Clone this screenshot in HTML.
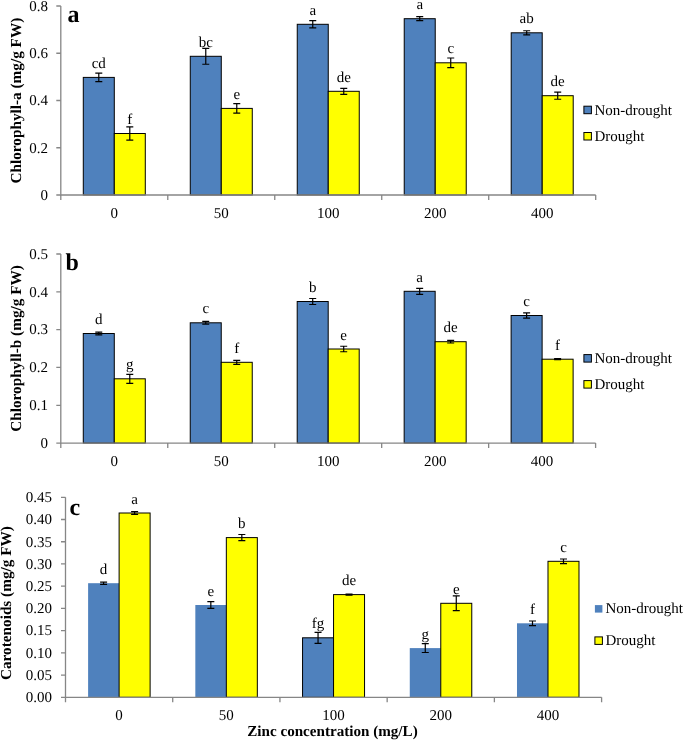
<!DOCTYPE html>
<html><head><meta charset="utf-8"><style>
html,body{margin:0;padding:0;background:#fff;}
svg{display:block;will-change:transform;}
text{font-family:"Liberation Serif", serif;font-size:15px;fill:#000;text-rendering:geometricPrecision;}
</style></head><body>
<svg width="685" height="740" viewBox="0 0 685 740">
<rect width="685" height="740" fill="#fff"/>
<rect x="83.29" y="77.4" width="31" height="117.6" fill="#4f81bd" stroke="#000" stroke-width="1"/>
<rect x="114.29" y="133.5" width="31" height="61.5" fill="#ffff00" stroke="#000" stroke-width="1"/>
<rect x="190.27" y="56.3" width="31" height="138.7" fill="#4f81bd" stroke="#000" stroke-width="1"/>
<rect x="221.27" y="108.4" width="31" height="86.6" fill="#ffff00" stroke="#000" stroke-width="1"/>
<rect x="297.25" y="24.3" width="31" height="170.7" fill="#4f81bd" stroke="#000" stroke-width="1"/>
<rect x="328.25" y="91.3" width="31" height="103.7" fill="#ffff00" stroke="#000" stroke-width="1"/>
<rect x="404.23" y="18.7" width="31" height="176.3" fill="#4f81bd" stroke="#000" stroke-width="1"/>
<rect x="435.23" y="62.8" width="31" height="132.2" fill="#ffff00" stroke="#000" stroke-width="1"/>
<rect x="511.21" y="32.8" width="31" height="162.2" fill="#4f81bd" stroke="#000" stroke-width="1"/>
<rect x="542.21" y="95.7" width="31" height="99.3" fill="#ffff00" stroke="#000" stroke-width="1"/>
<path d="M60.8 6V195H595.7" fill="none" stroke="#868686" stroke-width="1.3"/>
<path d="M56.3 195H60.8M56.3 147.75H60.8M56.3 100.5H60.8M56.3 53.25H60.8M56.3 6H60.8M60.8 195V200M167.78 195V200M274.76 195V200M381.74 195V200M488.72 195V200M595.7 195V200" fill="none" stroke="#868686" stroke-width="1.3"/>
<path d="M98.79 73.1V81.7M95.29 73.1H102.29M95.29 81.7H102.29M129.79 126.8V140.2M126.29 126.8H133.29M126.29 140.2H133.29M205.77 48.35V64.25M202.27 48.35H209.27M202.27 64.25H209.27M236.77 103.7V113.1M233.27 103.7H240.27M233.27 113.1H240.27M312.75 20.65V27.95M309.25 20.65H316.25M309.25 27.95H316.25M343.75 88.3V94.3M340.25 88.3H347.25M340.25 94.3H347.25M419.73 16.7V20.7M416.23 16.7H423.23M416.23 20.7H423.23M450.73 58V67.6M447.23 58H454.23M447.23 67.6H454.23M526.71 30.75V34.85M523.21 30.75H530.21M523.21 34.85H530.21M557.71 92.15V99.25M554.21 92.15H561.21M554.21 99.25H561.21" fill="none" stroke="#000" stroke-width="1.2"/>
<text x="48" y="199.8" text-anchor="end">0</text>
<text x="48" y="152.55" text-anchor="end">0.2</text>
<text x="48" y="105.3" text-anchor="end">0.4</text>
<text x="48" y="58.05" text-anchor="end">0.6</text>
<text x="48" y="10.8" text-anchor="end">0.8</text>
<text x="114.29" y="217.8" text-anchor="middle">0</text>
<text x="221.27" y="217.8" text-anchor="middle">50</text>
<text x="328.25" y="217.8" text-anchor="middle">100</text>
<text x="435.23" y="217.8" text-anchor="middle">200</text>
<text x="542.21" y="217.8" text-anchor="middle">400</text>
<text x="98.79" y="68" text-anchor="middle">cd</text>
<text x="129.79" y="124.1" text-anchor="middle">f</text>
<text x="205.77" y="46.9" text-anchor="middle">bc</text>
<text x="236.77" y="99" text-anchor="middle">e</text>
<text x="312.75" y="14.9" text-anchor="middle">a</text>
<text x="343.75" y="81.9" text-anchor="middle">de</text>
<text x="419.73" y="9.3" text-anchor="middle">a</text>
<text x="450.73" y="53.4" text-anchor="middle">c</text>
<text x="526.71" y="23.4" text-anchor="middle">ab</text>
<text x="557.71" y="86.3" text-anchor="middle">de</text>
<text x="67.5" y="21.5" style="font-weight:bold;font-size:24px">a</text>
<text transform="translate(20.7 100.65) rotate(-90)" text-anchor="middle" style="font-weight:bold;font-size:15.25px">Chlorophyll-a (mg/g FW)</text>
<rect x="583.9" y="106.2" width="7.5" height="7.5" fill="#4f81bd" stroke="#000" stroke-width="1"/>
<rect x="583.9" y="132.5" width="7.5" height="7.5" fill="#ffff00" stroke="#000" stroke-width="1"/>
<text x="594.4" y="114.5">Non-drought</text>
<text x="594.4" y="140.8">Drought</text>
<rect x="83.28" y="333.5" width="31" height="109.6" fill="#4f81bd" stroke="#000" stroke-width="1"/>
<rect x="114.28" y="378.8" width="31" height="64.3" fill="#ffff00" stroke="#000" stroke-width="1"/>
<rect x="190.24" y="322.8" width="31" height="120.3" fill="#4f81bd" stroke="#000" stroke-width="1"/>
<rect x="221.24" y="362.3" width="31" height="80.8" fill="#ffff00" stroke="#000" stroke-width="1"/>
<rect x="297.2" y="301.5" width="31" height="141.6" fill="#4f81bd" stroke="#000" stroke-width="1"/>
<rect x="328.2" y="349" width="31" height="94.1" fill="#ffff00" stroke="#000" stroke-width="1"/>
<rect x="404.16" y="291.3" width="31" height="151.8" fill="#4f81bd" stroke="#000" stroke-width="1"/>
<rect x="435.16" y="341.7" width="31" height="101.4" fill="#ffff00" stroke="#000" stroke-width="1"/>
<rect x="511.12" y="315.5" width="31" height="127.6" fill="#4f81bd" stroke="#000" stroke-width="1"/>
<rect x="542.12" y="359.2" width="31" height="83.9" fill="#ffff00" stroke="#000" stroke-width="1"/>
<path d="M60.8 254V443.1H595.6" fill="none" stroke="#868686" stroke-width="1.3"/>
<path d="M56.3 443.1H60.8M56.3 405.28H60.8M56.3 367.46H60.8M56.3 329.64H60.8M56.3 291.82H60.8M56.3 254H60.8M60.8 443.1V448.1M167.76 443.1V448.1M274.72 443.1V448.1M381.68 443.1V448.1M488.64 443.1V448.1M595.6 443.1V448.1" fill="none" stroke="#868686" stroke-width="1.3"/>
<path d="M98.78 332.2V334.8M95.28 332.2H102.28M95.28 334.8H102.28M129.78 374.3V383.3M126.28 374.3H133.28M126.28 383.3H133.28M205.74 321.4V324.2M202.24 321.4H209.24M202.24 324.2H209.24M236.74 360.3V364.3M233.24 360.3H240.24M233.24 364.3H240.24M312.7 298.5V304.5M309.2 298.5H316.2M309.2 304.5H316.2M343.7 346.25V351.75M340.2 346.25H347.2M340.2 351.75H347.2M419.66 288.3V294.3M416.16 288.3H423.16M416.16 294.3H423.16M450.66 340.4V343M447.16 340.4H454.16M447.16 343H454.16M526.62 312.9V318.1M523.12 312.9H530.12M523.12 318.1H530.12M557.62 358.7V359.7M554.12 358.7H561.12M554.12 359.7H561.12" fill="none" stroke="#000" stroke-width="1.2"/>
<text x="48" y="447.9" text-anchor="end">0</text>
<text x="48" y="410.08" text-anchor="end">0.1</text>
<text x="48" y="372.26" text-anchor="end">0.2</text>
<text x="48" y="334.44" text-anchor="end">0.3</text>
<text x="48" y="296.62" text-anchor="end">0.4</text>
<text x="48" y="258.8" text-anchor="end">0.5</text>
<text x="114.28" y="465.9" text-anchor="middle">0</text>
<text x="221.24" y="465.9" text-anchor="middle">50</text>
<text x="328.2" y="465.9" text-anchor="middle">100</text>
<text x="435.16" y="465.9" text-anchor="middle">200</text>
<text x="542.12" y="465.9" text-anchor="middle">400</text>
<text x="98.78" y="324.1" text-anchor="middle">d</text>
<text x="129.78" y="369.4" text-anchor="middle">g</text>
<text x="205.74" y="313.4" text-anchor="middle">c</text>
<text x="236.74" y="352.9" text-anchor="middle">f</text>
<text x="312.7" y="292.1" text-anchor="middle">b</text>
<text x="343.7" y="339.6" text-anchor="middle">e</text>
<text x="419.66" y="281.9" text-anchor="middle">a</text>
<text x="450.66" y="332.3" text-anchor="middle">de</text>
<text x="526.62" y="306.1" text-anchor="middle">c</text>
<text x="557.62" y="349.8" text-anchor="middle">f</text>
<text x="65.6" y="270" style="font-weight:bold;font-size:24px">b</text>
<text transform="translate(20.7 348.5) rotate(-90)" text-anchor="middle" style="font-weight:bold;font-size:15.25px">Chlorophyll-b (mg/g FW)</text>
<rect x="583.9" y="354.6" width="7.5" height="7.5" fill="#4f81bd" stroke="#000" stroke-width="1"/>
<rect x="583.9" y="380.6" width="7.5" height="7.5" fill="#ffff00" stroke="#000" stroke-width="1"/>
<text x="594.4" y="362.9">Non-drought</text>
<text x="594.4" y="388.9">Drought</text>
<rect x="88.11" y="583.2" width="31" height="114.1" fill="#4f81bd"/>
<rect x="119.11" y="513" width="31" height="184.3" fill="#ffff00" stroke="#000" stroke-width="1"/>
<rect x="195.33" y="605" width="31" height="92.3" fill="#4f81bd"/>
<rect x="226.33" y="537.6" width="31" height="159.7" fill="#ffff00" stroke="#000" stroke-width="1"/>
<rect x="302.55" y="637.8" width="31" height="59.5" fill="#4f81bd" stroke="#000" stroke-width="1"/>
<rect x="333.55" y="594.6" width="31" height="102.7" fill="#ffff00" stroke="#000" stroke-width="1"/>
<rect x="409.77" y="648.1" width="31" height="49.2" fill="#4f81bd"/>
<rect x="440.77" y="603.3" width="31" height="94" fill="#ffff00" stroke="#000" stroke-width="1"/>
<rect x="516.99" y="623.3" width="31" height="74" fill="#4f81bd"/>
<rect x="547.99" y="561.3" width="31" height="136" fill="#ffff00" stroke="#000" stroke-width="1"/>
<path d="M65.5 497.3V697.3H601.6" fill="none" stroke="#868686" stroke-width="1.3"/>
<path d="M61 697.3H65.5M61 675.08H65.5M61 652.86H65.5M61 630.63H65.5M61 608.41H65.5M61 586.19H65.5M61 563.97H65.5M61 541.74H65.5M61 519.52H65.5M61 497.3H65.5M65.5 697.3V702.3M172.72 697.3V702.3M279.94 697.3V702.3M387.16 697.3V702.3M494.38 697.3V702.3M601.6 697.3V702.3" fill="none" stroke="#868686" stroke-width="1.3"/>
<path d="M103.61 582.1V584.3M100.11 582.1H107.11M100.11 584.3H107.11M134.61 511.6V514.4M131.11 511.6H138.11M131.11 514.4H138.11M210.83 601.6V608.4M207.33 601.6H214.33M207.33 608.4H214.33M241.83 534.5V540.7M238.33 534.5H245.33M238.33 540.7H245.33M318.05 632.3V643.3M314.55 632.3H321.55M314.55 643.3H321.55M349.05 594.1V595.1M345.55 594.1H352.55M345.55 595.1H352.55M425.27 643.7V652.5M421.77 643.7H428.77M421.77 652.5H428.77M456.27 595.9V610.7M452.77 595.9H459.77M452.77 610.7H459.77M532.49 621V625.6M528.99 621H535.99M528.99 625.6H535.99M563.49 559V563.6M559.99 559H566.99M559.99 563.6H566.99" fill="none" stroke="#000" stroke-width="1.2"/>
<text x="52" y="702.1" text-anchor="end">0.00</text>
<text x="52" y="679.88" text-anchor="end">0.05</text>
<text x="52" y="657.66" text-anchor="end">0.10</text>
<text x="52" y="635.43" text-anchor="end">0.15</text>
<text x="52" y="613.21" text-anchor="end">0.20</text>
<text x="52" y="590.99" text-anchor="end">0.25</text>
<text x="52" y="568.77" text-anchor="end">0.30</text>
<text x="52" y="546.54" text-anchor="end">0.35</text>
<text x="52" y="524.32" text-anchor="end">0.40</text>
<text x="52" y="502.1" text-anchor="end">0.45</text>
<text x="119.11" y="720.1" text-anchor="middle">0</text>
<text x="226.33" y="720.1" text-anchor="middle">50</text>
<text x="333.55" y="720.1" text-anchor="middle">100</text>
<text x="440.77" y="720.1" text-anchor="middle">200</text>
<text x="547.99" y="720.1" text-anchor="middle">400</text>
<text x="103.61" y="573.8" text-anchor="middle">d</text>
<text x="134.61" y="503.6" text-anchor="middle">a</text>
<text x="210.83" y="595.6" text-anchor="middle">e</text>
<text x="241.83" y="528.2" text-anchor="middle">b</text>
<text x="318.05" y="628.4" text-anchor="middle">fg</text>
<text x="349.05" y="585.2" text-anchor="middle">de</text>
<text x="425.27" y="638.7" text-anchor="middle">g</text>
<text x="456.27" y="593.9" text-anchor="middle">e</text>
<text x="532.49" y="613.9" text-anchor="middle">f</text>
<text x="563.49" y="551.9" text-anchor="middle">c</text>
<text x="69.6" y="514.5" style="font-weight:bold;font-size:24px">c</text>
<text transform="translate(11 603.1) rotate(-90)" text-anchor="middle" style="font-weight:bold;font-size:15.25px">Carotenoids (mg/g FW)</text>
<rect x="594.9" y="605.1" width="7.5" height="7.5" fill="#4f81bd"/>
<rect x="594.9" y="636.9" width="7.5" height="7.5" fill="#ffff00" stroke="#000" stroke-width="1"/>
<text x="605.4" y="613.3">Non-drought</text>
<text x="605.4" y="645.1">Drought</text>
<text x="247.3" y="735.5" style="font-weight:bold;font-size:15.12px">Zinc concentration (mg/L)</text>
</svg>
</body></html>
